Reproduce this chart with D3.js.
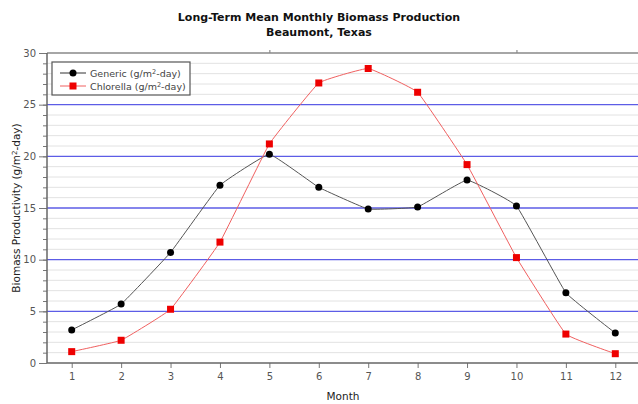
<!DOCTYPE html>
<html lang="en">
<head>
<meta charset="UTF-8">
<script src="https://d3js.org/d3.v7.min.js"></script>
<style>
  body { margin: 0; background: #fff; }
  text { font-family: "DejaVu Sans", Verdana, sans-serif; }
</style>
</head>
<body>
<svg width="638" height="404"></svg>
<script>
// data
var months = [1, 2, 3, 4, 5, 6, 7, 8, 9, 10, 11, 12];
var generic = [3.2, 5.7, 10.7, 17.2, 20.2, 17.0, 14.9, 15.1, 17.7, 15.2, 6.8, 2.9];
var chlorella = [1.1, 2.2, 5.2, 11.7, 21.2, 27.1, 28.5, 26.2, 19.2, 10.2, 2.8, 0.9];
var yMajorTicks = [0, 5, 10, 15, 20, 25, 30];
var topTicks = [5, 10];

var svg = d3.select("svg"),
    margin = {top: 53, right: 0, bottom: 41, left: 47},
    width = 640 - margin.left - margin.right,
    height = 404 - margin.top - margin.bottom,
    g = svg.append("g").attr("transform", "translate(" + margin.left + "," + margin.top + ")");

var x = d3.scaleLinear().domain([0.5, 12.5]).range([0, width]);
var y = d3.scaleLinear().domain([0, 30]).range([height, 0]);

// minor grid at every unit, blue major grid every 5
g.selectAll(".minor").data(d3.range(1, 30).filter(function(d) { return d % 5 !== 0; }))
  .enter().append("line")
  .attr("x1", 0).attr("x2", width)
  .attr("y1", function(d) { return y(d); }).attr("y2", function(d) { return y(d); })
  .attr("stroke", "#e2e2e2").attr("stroke-width", 1);

g.selectAll(".major").data([5, 10, 15, 20, 25])
  .enter().append("line")
  .attr("x1", 0).attr("x2", width)
  .attr("y1", function(d) { return y(d); }).attr("y2", function(d) { return y(d); })
  .attr("stroke", "#5c5ce6").attr("stroke-width", 1.4);

// axes
var yAxis = g.append("g").call(d3.axisLeft(y).tickValues(yMajorTicks).tickSize(8).tickPadding(3));
var yMinor = g.append("g").call(d3.axisLeft(y).tickValues(d3.range(0, 31)).tickSize(4).tickFormat(""));
var xAxis = g.append("g").attr("transform", "translate(0," + height + ")")
  .call(d3.axisBottom(x).tickValues(months).tickSize(5).tickPadding(5));
var xTop = g.append("g").call(d3.axisTop(x).tickValues(topTicks).tickSize(3).tickFormat(""));

[yAxis, yMinor, xAxis, xTop].forEach(function(a) {
  a.select(".domain").remove();
  a.selectAll("line").attr("stroke", "#777");
  a.selectAll("text").attr("fill", "#555").style("font-size", "10px");
});

g.append("line").attr("x1", 0).attr("x2", width).attr("y1", 0).attr("y2", 0)
  .attr("stroke", "#888").attr("stroke-width", 1.5);
g.append("line").attr("x1", 0).attr("x2", width).attr("y1", height).attr("y2", height)
  .attr("stroke", "#666").attr("stroke-width", 1.5);
g.append("line").attr("x1", 0).attr("x2", 0).attr("y1", 0).attr("y2", height)
  .attr("stroke", "#666").attr("stroke-width", 1.5);

// series: gently smoothed, mostly straight segments
var lineGen = function(vals) {
  return d3.line()
    .x(function(d, i) { return x(months[i]); })
    .y(function(d) { return y(d); })
    .curve(d3.curveCardinal.tension(0.75))(vals);
};

g.append("path").attr("d", lineGen(generic))
  .attr("fill", "none").attr("stroke", "#555").attr("stroke-width", 1);
g.append("path").attr("d", lineGen(chlorella))
  .attr("fill", "none").attr("stroke", "#f06060").attr("stroke-width", 1);

g.selectAll(".gdot").data(generic).enter().append("circle")
  .attr("cx", function(d, i) { return x(months[i]); })
  .attr("cy", function(d) { return y(d); })
  .attr("r", 3.5).attr("fill", "#000");

g.selectAll(".csq").data(chlorella).enter().append("rect")
  .attr("x", function(d, i) { return x(months[i]) - 3.5; })
  .attr("y", function(d) { return y(d) - 3.5; })
  .attr("width", 7).attr("height", 7).attr("fill", "#ee0000");

// legend
var legend = svg.append("g").attr("transform", "translate(52,62)");
legend.append("rect").attr("width", 138).attr("height", 33)
  .attr("fill", "#fff").attr("stroke", "#555").attr("stroke-width", 1.2);
legend.append("line").attr("x1", 8).attr("x2", 34).attr("y1", 11).attr("y2", 11).attr("stroke", "#333");
legend.append("circle").attr("cx", 21).attr("cy", 11).attr("r", 3.5).attr("fill", "#000");
legend.append("line").attr("x1", 8).attr("x2", 34).attr("y1", 24).attr("y2", 24).attr("stroke", "#f06060");
legend.append("rect").attr("x", 17.5).attr("y", 20.5).attr("width", 7).attr("height", 7).attr("fill", "#ee0000");
var lt1 = legend.append("text").attr("x", 38).attr("y", 14.5).style("font-size", "9.5px").attr("fill", "#444");
lt1.append("tspan").text("Generic (g/m");
lt1.append("tspan").text("2").style("font-size", "6.5px").attr("dy", -3);
lt1.append("tspan").text("-day)").attr("dy", 3);
var lt2 = legend.append("text").attr("x", 38).attr("y", 27.5).style("font-size", "9.5px").attr("fill", "#444");
lt2.append("tspan").text("Chlorella (g/m");
lt2.append("tspan").text("2").style("font-size", "6.5px").attr("dy", -3);
lt2.append("tspan").text("-day)").attr("dy", 3);

// titles
svg.append("text").attr("x", 319).attr("y", 21).attr("text-anchor", "middle")
  .style("font-size", "11px").style("font-weight", "bold").attr("fill", "#111")
  .text("Long-Term Mean Monthly Biomass Production");
svg.append("text").attr("x", 319).attr("y", 36).attr("text-anchor", "middle")
  .style("font-size", "11px").style("font-weight", "bold").attr("fill", "#111")
  .text("Beaumont, Texas");

svg.append("text").attr("x", 343).attr("y", 400).attr("text-anchor", "middle")
  .style("font-size", "10.5px").attr("fill", "#222").text("Month");

var yl = svg.append("text").attr("transform", "translate(20,208) rotate(-90)")
  .attr("text-anchor", "middle").style("font-size", "10.5px").attr("fill", "#222");
yl.append("tspan").text("Biomass Productivity (g/m");
yl.append("tspan").text("2").style("font-size", "7px").attr("dy", -3);
yl.append("tspan").text("-day)").attr("dy", 3);
</script>
</body>
</html>
